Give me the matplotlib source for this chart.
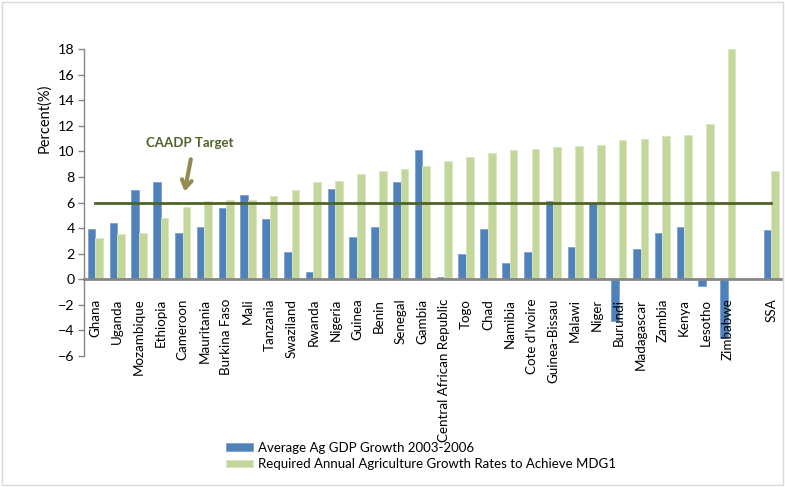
import matplotlib
matplotlib.use("Agg")
import matplotlib.pyplot as plt
from matplotlib.patches import Rectangle
import numpy as np

plt.rcParams['font.family'] = ['Lato', 'DejaVu Sans']

fontsize = 9.5

countries = ["Ghana", "Uganda", "Mozambique", "Ethiopia", "Cameroon", "Mauritania",
             "Burkina Faso", "Mali", "Tanzania", "Swaziland", "Rwanda", "Nigeria",
             "Guinea", "Benin", "Senegal", "Gambia", "Central African Republic", "Togo",
             "Chad", "Namibia", "Cote d'Ivoire", "Guinea-Bissau", "Malawi", "Niger",
             "Burundi", "Madagascar", "Zambia", "Kenya", "Lesotho", "Zimbabwe", "", "SSA"]

ag_gdp_growth = [3.9, 4.4, 7.0, 7.6, 3.6, 4.1, 5.6, 6.6, 4.7, 2.1, 0.6, 7.1,
                 3.3, 4.1, 7.6, 10.1, 0.2, 2.0, 3.9, 1.3, 2.1, 6.1, 2.5, 6.0,
                 -3.3, 2.4, 3.6, 4.1, -0.5, -4.6, np.nan, 3.85]

required_growth = [3.2, 3.55, 3.65, 4.8, 5.65, 6.1, 6.2, 6.2, 6.5, 6.95, 7.6, 7.7,
                   8.2, 8.45, 8.6, 8.9, 9.25, 9.55, 9.9, 10.1, 10.2, 10.35, 10.4, 10.5,
                   10.9, 10.95, 11.2, 11.3, 12.15, 18.0, np.nan, 8.45]

caadp_target = 6

x = np.arange(len(countries))
width = 0.35

fig = plt.figure(figsize=(7.85, 4.87), dpi=100)
ax = fig.add_axes([0.1076, 0.2692, 0.889, 0.6296])
ax.set_axisbelow(False)

ax.bar(x - width / 2, ag_gdp_growth, width, color='#4F81BD', edgecolor='#7FA1D1',
       linewidth=0.6, label='Average Ag GDP Growth 2003-2006', zorder=2)
ax.bar(x + width / 2, required_growth, width, color='#C3D69B', edgecolor='#D9E6BF',
       linewidth=0.6, label='Required Annual Agriculture Growth Rates to Achieve MDG1', zorder=2)

# CAADP 6% target line
ax.plot([0, len(countries) - 1], [caadp_target, caadp_target], color='#4F6228',
        linewidth=2, zorder=3)

ax.text(4.35, 10.7, 'CAADP Target', color='#4F6228', fontsize=fontsize,
        fontweight='bold', ha='center', va='center')
ax.annotate('', xy=(4.07, 6.65), xytext=(4.4, 9.6),
            arrowprops=dict(arrowstyle='->,head_length=0.55,head_width=0.35',
                            color='#948A54', lw=3))

# category axis sits on the zero line
for side in ['top', 'right']:
    ax.spines[side].set_visible(False)
ax.spines['bottom'].set_position(('data', 0))
ax.spines['bottom'].set_color('#868686')
ax.spines['bottom'].set_linewidth(2)
ax.spines['left'].set_color('#868686')
ax.spines['left'].set_linewidth(1)

ax.set_xlim(-0.5, len(countries) - 0.5)
ax.set_ylim(-6, 18)
ax.set_yticks(np.arange(-6, 19, 2))
ax.set_xticks(x)
ax.set_xticklabels(countries, rotation=90, fontsize=9.6, va='top', ha='center')
ax.tick_params(axis='x', length=0, pad=14)
ax.tick_params(axis='y', labelsize=10.3, length=4, width=1, color='#868686', pad=3)
ax.set_ylabel('Percent(%)', fontsize=10.5)
ax.yaxis.set_label_coords(-0.048, 0.775)

fig.legend(loc='upper left', bbox_to_anchor=(0.288, 0.093), frameon=False,
           fontsize=fontsize, borderpad=0, borderaxespad=0, handlelength=2.05,
           handleheight=0.45, handletextpad=0.38, labelspacing=0.35)

fig.patches.append(Rectangle((0.002, 0.004), 0.995, 0.992, transform=fig.transFigure,
                             fill=False, edgecolor='#D9D9D9', linewidth=1))

fig.savefig('out.png', dpi=100)
